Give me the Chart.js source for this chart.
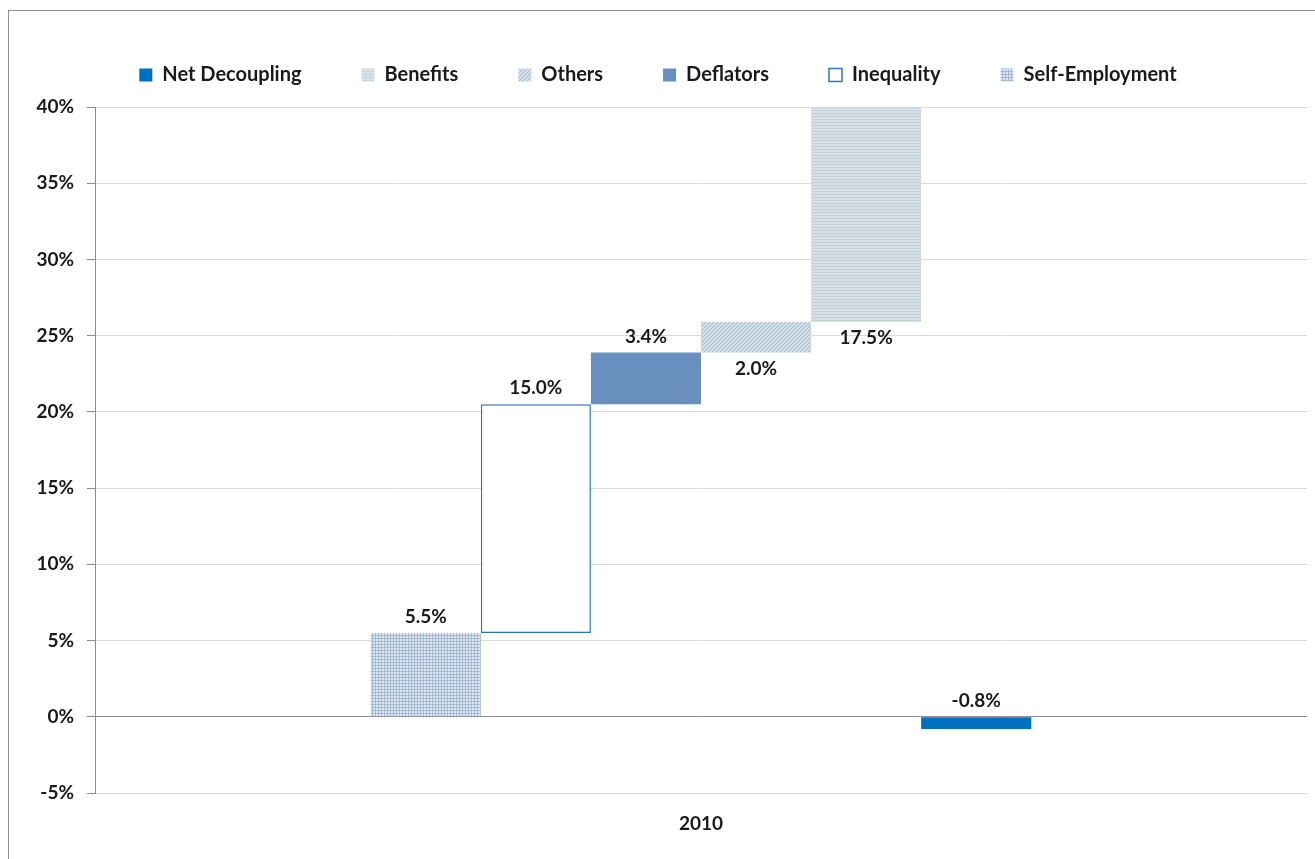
<!DOCTYPE html>
<html>
<head>
<meta charset="utf-8">
<script src="https://cdn.jsdelivr.net/npm/chart.js@4.4.1/dist/chart.umd.min.js"></script>
<style>
body { margin: 0; background: #fff; }
#frame { position: absolute; left: 8px; top: 10px; width: 1320px; height: 870px; border: 1px solid #8c8c8c; }
canvas { display: block; }
</style>
</head>
<body>
<div id="frame"><canvas id="decouplingChart" width="1306" height="848"></canvas></div>
<script>
const categories = [ '2010' ];
const seriesNames = [ 'Self-Employment', 'Inequality', 'Deflators', 'Others', 'Benefits', 'Net Decoupling' ];
// floating bar ranges (percent)
const barLow  = [ 0,   5.5,  20.5, 23.9, 25.9, -0.8 ];
const barHigh = [ 5.5, 20.5, 23.9, 25.9, 43.4, 0 ];
// values printed next to each bar
const shownValues = [ 5.5, 15.0, 3.4, 2.0, 17.5, -0.8 ];
const yTicks = [ -5, 0, 5, 10, 15, 20, 25, 30, 35, 40 ];

const FONT = 'Lato';

function makePattern( w, h, draw ) {
    let c = document.createElement( 'canvas' );
    c.width = w;
    c.height = h;
    let pctx = c.getContext( '2d' );
    draw( pctx );
    return pctx.createPattern( c, 'repeat' );
}

// checkered grid
let gridPattern = makePattern( 3, 3, function( p ) {
    p.fillStyle = '#dfe7f0';
    p.fillRect( 0, 0, 3, 3 );
    p.fillStyle = '#a3b9d2';
    p.fillRect( 0, 0, 3, 1 );
    p.fillRect( 0, 0, 1, 3 );
} );

// fine horizontal lines
let linePattern = makePattern( 4, 3, function( p ) {
    p.fillStyle = '#d7e0e7';
    p.fillRect( 0, 0, 4, 3 );
    p.fillStyle = '#c6d3dd';
    p.fillRect( 0, 0, 4, 1 );
} );

// diagonal hatch
let hatchPattern = makePattern( 4, 4, function( p ) {
    p.fillStyle = '#d3dee8';
    p.fillRect( 0, 0, 4, 4 );
    p.strokeStyle = '#a8bccf';
    p.lineWidth = 1;
    p.beginPath();
    p.moveTo( -1, 5 );
    p.lineTo( 5, -1 );
    p.stroke();
} );

const fills = [ gridPattern, '#ffffff', '#698fbf', hatchPattern, linePattern, '#0070c0' ];
const borders = [ 'rgba(0,0,0,0)', '#2e75b6', 'rgba(0,0,0,0)', 'rgba(0,0,0,0)', 'rgba(0,0,0,0)', 'rgba(0,0,0,0)' ];
const borderWidths = [ 0, 1.5, 0, 0, 0, 0 ];

let datasets = seriesNames.map( function( name, i ) {
    return {
        label: name,
        data: [ [ barLow[ i ], barHigh[ i ] ] ],
        backgroundColor: fills[ i ],
        borderColor: borders[ i ],
        borderWidth: borderWidths[ i ],
        borderSkipped: false,
    };
} );

const labelsBelow = [ 'Others', 'Benefits' ];

const barValueLabels = {
    id: 'barValueLabels',
    afterLayout( chart ) {
        // pull the legend row up closer to the frame top
        chart.legend.top -= 12;
        chart.legend.bottom -= 12;
    },
    afterDatasetsDraw( chart ) {
        let ctx = chart.ctx;
        ctx.save();
        ctx.font = 'bold 19px ' + FONT;
        ctx.fillStyle = '#1a1a1a';
        ctx.textAlign = 'center';
        ctx.textBaseline = 'middle';
        chart.data.datasets.forEach( function( ds, i ) {
            let bar = chart.getDatasetMeta( i ).data[ 0 ];
            let top = Math.min( bar.y, bar.base );
            let bottom = Math.max( bar.y, bar.base );
            let y = labelsBelow.includes( ds.label ) ? bottom + 16 : top - 16;
            ctx.fillText( shownValues[ i ].toFixed( 1 ) + '%', bar.x, y );
        } );
        ctx.restore();
    }
};

let ctx = document.getElementById( 'decouplingChart' ).getContext( '2d' );
let decouplingChart = new Chart( ctx, {
    type: 'bar',
    data: {
        labels: categories,
        datasets: datasets,
    },
    options: {
        responsive: false,
        animation: false,
        grouped: true,
        barPercentage: 1,
        categoryPercentage: 0.545,
        layout: {
            padding: { top: 0, right: 8, bottom: 0, left: 0 },
        },
        plugins: {
            legend: {
                position: 'top',
                reverse: true,
                labels: {
                    boxWidth: 13,
                    boxHeight: 13,
                    padding: 60,
                    color: '#1a1a1a',
                    font: { family: FONT, size: 20, weight: 'bold' },
                },
            },
            tooltip: { enabled: false },
        },
        scales: {
            x: {
                grid: { display: false, drawTicks: false },
                border: { display: false },
                ticks: {
                    padding: 19,
                    color: '#1a1a1a',
                    font: { family: FONT, size: 19, weight: 'bold' },
                },
                afterFit: function( scale ) { scale.height = 66; },
            },
            y: {
                min: -5,
                max: 40,
                afterBuildTicks: function( scale ) {
                    scale.ticks = yTicks.map( function( v ) { return { value: v }; } );
                },
                grid: {
                    color: function( c ) { return c.tick && c.tick.value === 0 ? '#8c8c8c' : '#dadada'; },
                    tickColor: '#8c8c8c',
                    tickLength: 8,
                },
                border: { display: true, color: '#8c8c8c' },
                ticks: {
                    padding: 13,
                    color: '#1a1a1a',
                    font: { family: FONT, size: 19, weight: 'bold' },
                    callback: function( v ) { return v + '%'; },
                },
                afterFit: function( scale ) {
                    scale.width = 86;
                    scale.paddingTop = 96;
                },
            },
        },
    },
    plugins: [ barValueLabels ],
} );
</script>
</body>
</html>
